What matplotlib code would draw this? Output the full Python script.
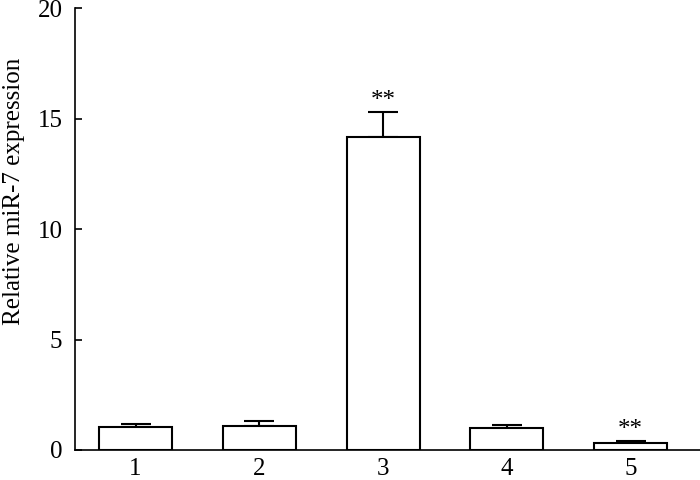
import matplotlib
matplotlib.use("Agg")
import matplotlib.pyplot as plt

groups = ["1", "2", "3", "4", "5"]
means = [1.05, 1.09, 14.18, 1.01, 0.33]
errors = [0.11, 0.24, 1.13, 0.13, 0.09]
marks = ["", "", "**", "", "**"]

plt.rcParams['font.family'] = ['Liberation Serif', 'DejaVu Serif']

fig = plt.figure(figsize=(7, 4.8), dpi=100)
ax = fig.add_axes([0.107, 0.0625, 0.893, 0.9205])

x = list(range(1, len(groups) + 1))
ax.bar(x, means, width=0.59, color='white', edgecolor='black', linewidth=1.5, zorder=2)
ax.errorbar(x, means, yerr=[[0] * len(errors), errors], fmt='none', ecolor='black',
            elinewidth=1.5, capsize=11, capthick=1.5, zorder=1)

for xi, m, e, s in zip(x, means, errors, marks):
    if s:
        ax.annotate(s, (xi, m + e), xytext=(0, 0), textcoords='offset points',
                    ha='center', va='bottom', fontsize=18)

ax.set_xlim(0.51, 5.56)
ax.set_ylim(0, 20)
ax.set_yticks([0, 5, 10, 15, 20])
ax.set_xticks(x)
ax.set_xticklabels(groups)
ax.tick_params(axis='x', length=0, pad=6, labelsize=18)
ax.tick_params(axis='y', direction='in', length=5, width=1.2, labelsize=18, pad=9)
ax.set_ylabel('Relative miR-7 expression', fontsize=18)
ax.yaxis.set_label_coords(-0.08, 0.585)

ax.spines['top'].set_visible(False)
ax.spines['right'].set_visible(False)
ax.spines['left'].set_linewidth(1.2)
ax.spines['bottom'].set_linewidth(1.2)

fig.savefig('out.png', dpi=100)
